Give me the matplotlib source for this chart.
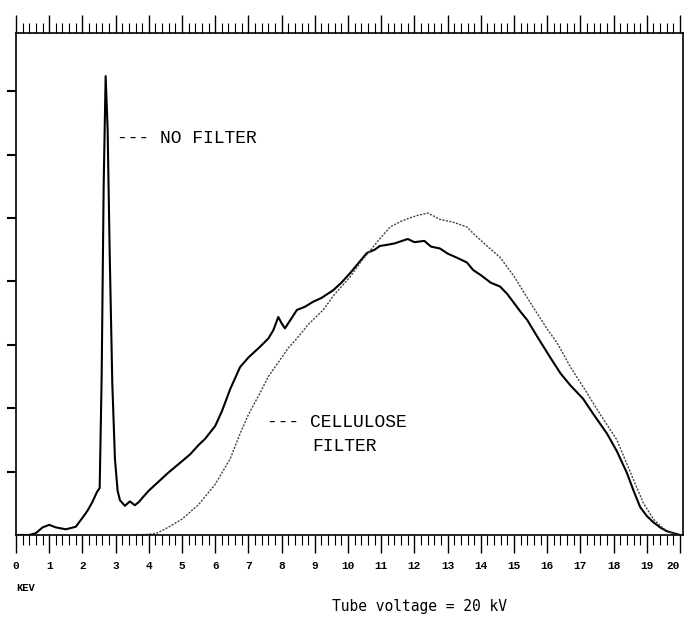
import numpy as np
import matplotlib
matplotlib.use('Agg')
import matplotlib.pyplot as plt
from matplotlib.ticker import MultipleLocator

# Espectro sin filtro (keV, intensidad relativa)
kev_sin = [0.0, 0.4, 0.6, 0.8, 1.0, 1.2, 1.5, 1.8, 2.0, 2.15, 2.3, 2.44, 2.52,
           2.58, 2.64, 2.7, 2.76, 2.82, 2.9, 2.98, 3.06, 3.13, 3.28, 3.43, 3.58,
           3.7, 3.83, 4.0, 4.25, 4.58, 4.9, 5.24, 5.5, 5.7, 6.0, 6.2, 6.45, 6.75,
           7.0, 7.35, 7.6, 7.75, 7.9, 8.0, 8.1, 8.3, 8.46, 8.7, 8.95, 9.2, 9.55,
           9.8, 10.06, 10.3, 10.57, 10.8, 10.96, 11.2, 11.4, 11.57, 11.8, 12.0,
           12.3, 12.5, 12.77, 13.0, 13.3, 13.58, 13.77, 14.0, 14.3, 14.58, 14.8,
           15.0, 15.2, 15.4, 15.7, 16.08, 16.4, 16.7, 17.08, 17.4, 17.8, 18.1,
           18.4, 18.6, 18.8, 19.0, 19.2, 19.4, 19.6, 19.8, 20.0]
int_sin = [0.0, 0.0, 0.03, 0.12, 0.16, 0.12, 0.09, 0.13, 0.27, 0.38, 0.52, 0.68, 0.74,
           2.5, 5.5, 7.24, 6.4, 4.5, 2.4, 1.2, 0.7, 0.55, 0.46, 0.53, 0.47,
           0.52, 0.6, 0.7, 0.82, 0.98, 1.12, 1.27, 1.42, 1.52, 1.72, 1.95, 2.3, 2.65,
           2.8, 2.97, 3.1, 3.23, 3.44, 3.34, 3.26, 3.42, 3.55, 3.6, 3.68, 3.74, 3.86,
           3.98, 4.13, 4.28, 4.45, 4.5, 4.56, 4.58, 4.6, 4.63, 4.67, 4.62,
           4.64, 4.55, 4.52, 4.44, 4.37, 4.3, 4.18, 4.1, 3.98, 3.92, 3.8,
           3.66, 3.52, 3.39, 3.13, 2.81, 2.55, 2.36, 2.15, 1.9, 1.6, 1.32,
           0.98, 0.7, 0.44, 0.3, 0.2, 0.12, 0.06, 0.03, 0.0]

# Espectro con filtro de celulosa
kev_cel = [3.6, 4.0, 4.25, 4.58, 5.0, 5.5, 6.0, 6.45, 6.75, 7.0, 7.35, 7.6, 7.95,
           8.2, 8.46, 8.8, 9.25, 9.6, 10.06, 10.4, 10.75, 11.0, 11.27, 11.6, 11.85,
           12.08, 12.4, 12.77, 13.2, 13.58, 13.77, 14.1, 14.58, 15.0, 15.57, 16.0,
           16.3, 16.7, 17.2, 17.6, 18.1, 18.6, 18.9, 19.2, 19.5, 19.8, 20.0]
int_cel = [0.0, 0.01, 0.03, 0.12, 0.25, 0.48, 0.8, 1.2, 1.6, 1.9, 2.24, 2.5, 2.76,
           2.95, 3.1, 3.32, 3.55, 3.8, 4.07, 4.32, 4.54, 4.7, 4.86, 4.95, 5.0,
           5.04, 5.08, 4.98, 4.93, 4.86, 4.76, 4.6, 4.38, 4.08, 3.6, 3.25,
           3.03, 2.65, 2.24, 1.9, 1.5, 0.87, 0.5, 0.25, 0.1, 0.02, 0.0]

etiquetas_x = [str(i) for i in range(21)]

fig = plt.figure(figsize=(6.84, 6.25), dpi=100)
ax = fig.add_axes([16/684, 90/625, 667/684, 502/625])

ax.plot(kev_sin, int_sin, color='black', lw=1.5)
ax.plot(kev_cel, int_cel, color='#444444', lw=1.0, linestyle=(0, (1.5, 1.0)))

ax.set_xlim(0, 20.09)
ax.set_ylim(0, 7.92)

# ejes: ticks hacia afuera
ax.xaxis.set_minor_locator(MultipleLocator(0.2))
ax.set_xticks(range(21))
ax.set_xticklabels(etiquetas_x, family='Liberation Mono', fontweight='bold', fontsize=8)
ax.get_xticklabels()[-1].set_horizontalalignment('right')
ax.tick_params(axis='x', which='major', direction='out', length=13, width=1.0,
               top=True, bottom=True, pad=6)
ax.tick_params(axis='x', which='minor', direction='out', length=7, width=0.8,
               top=True, bottom=True)
ax.set_yticks(range(1, 8))
ax.set_yticklabels([])
ax.tick_params(axis='y', which='major', direction='out', length=6.5, width=1.5,
               left=True, right=False)
for s in ax.spines.values():
    s.set_linewidth(1.2)

mono = 'Liberation Mono'
ax.text(3.04, 6.25, '--- NO FILTER', family=mono, fontsize=13, va='center', ha='left')
ax.text(7.56, 1.77, '--- CELLULOSE', family=mono, fontsize=13, va='center', ha='left')
ax.text(8.92, 1.39, 'FILTER', family=mono, fontsize=13, va='center', ha='left')

fig.text(16/684, 1 - 588/625, 'KEV', family=mono, fontweight='bold', fontsize=7.5,
         va='center', ha='left')
fig.text(420/684, 1 - 607/625, 'Tube voltage = 20 kV', family='DejaVu Sans Mono',
         fontsize=10.5, va='center', ha='center')

fig.savefig('out.png', dpi=100)
